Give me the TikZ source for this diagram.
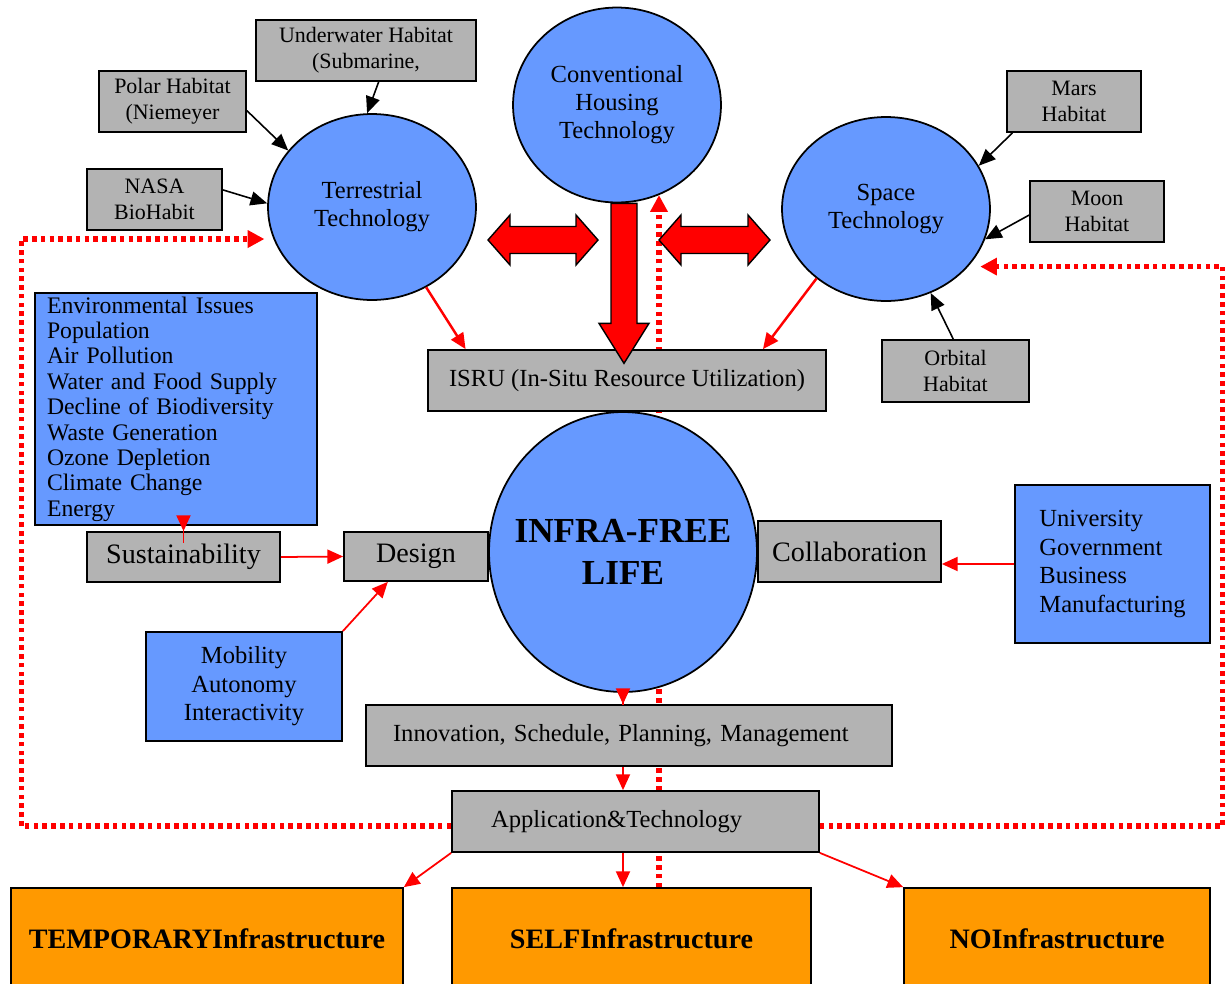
\documentclass[tikz,border=0pt]{standalone}
\usepackage{fontspec}
\setmainfont{Liberation Serif}
\usetikzlibrary{arrows.meta,shapes.geometric,backgrounds}
\definecolor{boxgray}{RGB}{179,179,179}
\definecolor{boxblue}{RGB}{102,153,255}
\definecolor{boxorange}{RGB}{255,153,0}

\begin{document}
\begin{tikzpicture}[x=0.02cm, y=-0.02cm,
	graybox/.style={draw, fill=boxgray, line width=1pt, align=center, inner sep=0pt},
	bluebox/.style={draw, fill=boxblue, line width=1pt, inner sep=0pt},
	orangebox/.style={draw, fill=boxorange, line width=1pt, inner sep=0pt, font=\fontsize{16}{19}\selectfont\bfseries},
	bubble/.style={ellipse, draw, fill=boxblue, line width=1pt, inner sep=0pt, align=center, font=\fontsize{14}{16}\selectfont},
	smalltext/.style={font=\fontsize{12.5}{14.7}\selectfont},
	midtext/.style={font=\fontsize{14}{16}\selectfont},
	bigtext/.style={font=\fontsize{16}{19}\selectfont},
	blkarrow/.style={-{Triangle[length=9.5pt,width=8pt]}, line width=0.9pt},
	redarrow/.style={-{Triangle[length=9pt,width=8pt]}, red, line width=1pt},
	dotarrow/.style={-{Triangle[length=9.5pt,width=9.5pt]}, red, line width=3pt, dash pattern=on 2.6pt off 2.4pt},
	blockarrow/.style={draw=black, fill=red, line width=0.8pt, line join=miter}]
	\useasboundingbox (0,0) rectangle (1225,984);

	\node[bubble, minimum width=4.16cm, minimum height=3.9cm] (conv) at (617,105) {Conventional\\Housing\\Technology};
	\node[bubble, minimum width=4.16cm, minimum height=3.72cm] (terr) at (372,207) {Terrestrial\\Technology};
	\node[bubble, minimum width=4.16cm, minimum height=3.68cm] (space) at (886,209) {Space\\Technology};
	\node[bubble, inner sep=-11pt, minimum width=5.36cm, minimum height=5.6cm, font=\fontsize{20}{24}\selectfont\bfseries] (infra) at (623,552) {INFRA-FREE\\LIFE};

	\node[graybox, smalltext, minimum width=4.4cm, minimum height=1.22cm] (under) at (366,50.5) {Underwater Habitat\\(Submarine,};
	\node[graybox, smalltext, minimum width=2.94cm, minimum height=1.22cm] (polar) at (172.5,101.5) {Polar Habitat\\(Niemeyer};
	\node[graybox, smalltext, minimum width=2.7cm, minimum height=1.22cm] (nasa) at (154.5,199.5) {NASA\\BioHabit};
	\node[graybox, smalltext, minimum width=2.68cm, minimum height=1.22cm] (mars) at (1074,101.5) {Mars\\Habitat};
	\node[graybox, smalltext, minimum width=2.68cm, minimum height=1.22cm] (moon) at (1097,211.5) {Moon\\Habitat};
	\node[graybox, smalltext, minimum width=2.94cm, minimum height=1.24cm] (orbital) at (955.5,371) {Orbital\\Habitat};
	\node[graybox, midtext, minimum width=7.96cm, minimum height=1.22cm] (isru) at (627,380.5) {ISRU (In-Situ Resource Utilization)};

	\node[bluebox, font=\fontsize{13.5}{14.45}\selectfont, minimum width=5.64cm, minimum height=4.64cm, inner xsep=0.24cm, text width=5.16cm, align=left] (env) at (176,409)
		{Environmental Issues\\Population\\Air Pollution\\Water and Food Supply\\Decline of Biodiversity\\Waste Generation\\Ozone Depletion\\Climate Change\\Energy};
	\node[graybox, bigtext, minimum width=3.86cm, minimum height=1cm] (sust) at (183.5,557) {Sustainability};
	\node[graybox, bigtext, minimum width=2.88cm, minimum height=0.98cm] (design) at (416,556.5) {Design};
	\node[graybox, bigtext, minimum width=3.66cm, minimum height=1.22cm] (collab) at (849.5,551.5) {Collaboration};
	\node[bluebox, align=left, font=\fontsize{14}{16.4}\selectfont, minimum width=3.9cm, minimum height=3.16cm] (univ) at (1112.5,564) {University\\Government\\Business\\Manufacturing};
	\node[bluebox, align=center, font=\fontsize{14}{16.2}\selectfont, minimum width=3.92cm, minimum height=2.18cm] (mob) at (244,686.5) {Mobility\\Autonomy\\Interactivity};

	\node[graybox, midtext, minimum width=10.52cm, minimum height=1.22cm, inner xsep=0.54cm, text width=9.44cm, align=left] (innov) at (629,735.5) {Innovation, Schedule, Planning, Management};
	\node[graybox, midtext, minimum width=7.34cm, minimum height=1.22cm, inner xsep=0.78cm, text width=5.78cm, align=left] (app) at (635.5,821.5) {Application\&Technology};

	\node[orangebox, minimum width=7.84cm, minimum height=2.04cm] (temp) at (207,939) {TEMPORARYInfrastructure};
	\node[orangebox, minimum width=7.18cm, minimum height=2.04cm] (self) at (631.5,939) {SELFInfrastructure};
	\node[orangebox, minimum width=6.12cm, minimum height=2.04cm] (noinf) at (1057,939) {NOInfrastructure};

	\draw[blkarrow] (polar.-7) -- (terr.146);
	\draw[blkarrow] (under.-68) -- (terr.93);
	\draw[blkarrow] (nasa.8) -- (terr.178);
	\draw[blkarrow] (mars.207) -- (space.25);
	\draw[blkarrow] (moon.183) -- (space.-17);
	\draw[blkarrow] (orbital.94) -- (space.-62);

	\draw[redarrow, line width=1.4pt] (terr.-56) -- (isru.169);
	\draw[redarrow, line width=1.4pt] (space.-135) -- (isru.13);
	\draw[redarrow, shorten <=-0.34cm] (sust.north |- env.south) -- (sust.north);
	\draw[redarrow] (sust.east) -- (design.west);
	\draw[redarrow] (mob.north east) -- (design.222);
	\draw[redarrow] (univ.west) -- (univ.west -| collab.east);
	\draw[redarrow, shorten <=-0.24cm] (infra.south) -- (infra.south |- innov.north);
	\draw[redarrow] (innov.south -| infra.south) -- (app.north -| infra.south);
	\draw[redarrow] (app.south west) -- (temp.north east);
	\draw[redarrow] (app.south -| infra.south) -- (self.north -| infra.south);
	\draw[redarrow] (app.south east) -- (noinf.north west);

	\draw[blockarrow] (conv.south) ++(-6,0) -- ++(0,120) -- ++(-12,0) -- ++(25,40) -- ++(25,-40) -- ++(-12,0) -- ++(0,-120) -- cycle;
	\draw[blockarrow] (488,240) -- (510,215) -- (510,226.5) -- (576,226.5) -- (576,215) -- (598,240) -- (576,265) -- (576,253.5) -- (510,253.5) -- (510,265) -- cycle;
	\draw[blockarrow] (659,240) -- (681,215) -- (681,226.5) -- (748,226.5) -- (748,215) -- (770,240) -- (748,265) -- (748,253.5) -- (681,253.5) -- (681,265) -- cycle;

	\begin{scope}[on background layer]
		\draw[dotarrow, shorten >=0.18cm] ([yshift=-0.09cm]app.west) -- ++(-430,0) |- (terr.198);
		\draw[dotarrow, shorten >=0.24cm] ([yshift=-0.09cm]app.east) -- ++(403,0) |- (space.-35);
		\coordinate (selftop) at ([xshift=0.55cm]self.north);
		\draw[dotarrow] (selftop) -- (selftop |- conv.-65);
	\end{scope}
\end{tikzpicture}
\end{document}
